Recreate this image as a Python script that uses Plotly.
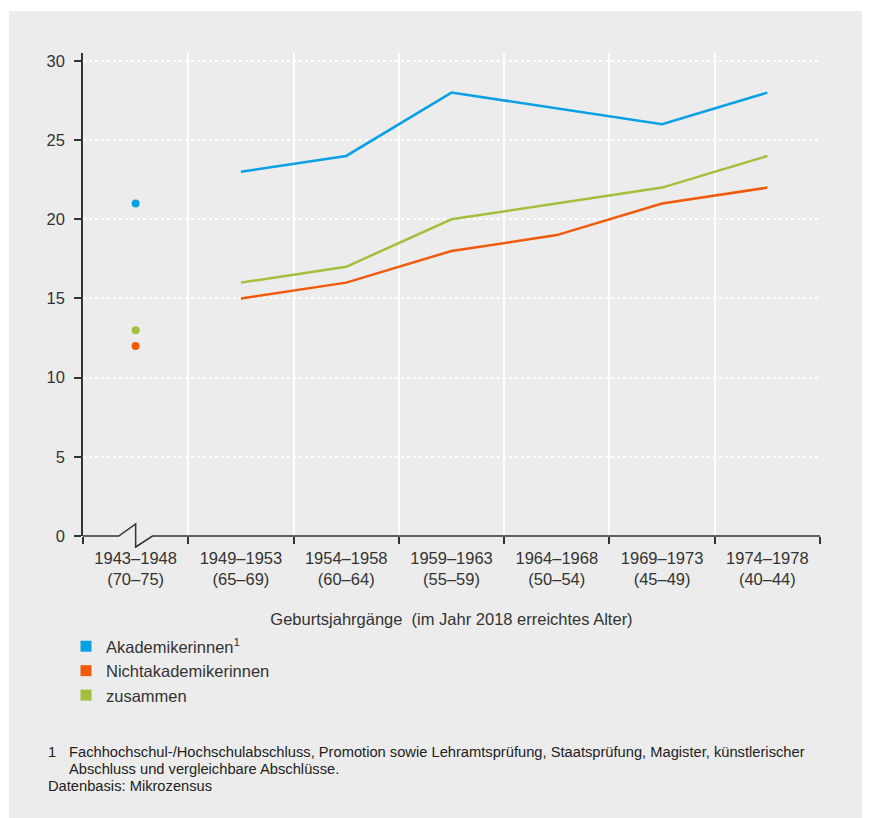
import plotly.graph_objects as go

# Geburtsjahrgänge (Alter 2018)
cohorts = ["1943–1948<br>(70–75)", "1949–1953<br>(65–69)", "1954–1958<br>(60–64)",
           "1959–1963<br>(55–59)", "1964–1968<br>(50–54)", "1969–1973<br>(45–49)",
           "1974–1978<br>(40–44)"]
akademikerinnen = [21, 23, 24, 28, 27, 26, 28]
nichtakademikerinnen = [12, 15, 16, 18, 19, 21, 22]
zusammen = [13, 16, 17, 20, 21, 22, 24]

series = [
    ("Akademikerinnen<sup>1</sup>", akademikerinnen, "#0aa0e6"),
    ("Nichtakademikerinnen", nichtakademikerinnen, "#f05a0a"),
    ("zusammen", zusammen, "#a2c03c"),
]

# page body adds an 8px margin, so the figure is a bit smaller than the window
OFF = 8
W, H = 862, 810
ML, MT = 83 - OFF, 53 - OFF
MR = W - (820 - OFF)
MB = H - (536 - OFF)
pw, ph = W - ML - MR, H - MT - MB

def px(x):
    # screen x of the reference -> paper x
    return (x - OFF - ML) / pw

def py(y):
    # screen y of the reference -> paper y
    return (H - MB - (y - OFF)) / ph

fig = go.Figure()
for name, vals, col in series:
    # first cohort stands apart as a single dot
    fig.add_trace(go.Scatter(x=cohorts[:1], y=vals[:1], mode="markers",
                             marker=dict(color=col, size=8), showlegend=False,
                             hoverinfo="skip"))
    fig.add_trace(go.Scatter(x=cohorts[1:], y=vals[1:], mode="lines",
                             line=dict(color=col, width=2.5), showlegend=False))
    fig.add_trace(go.Scatter(x=[None], y=[None], mode="markers", name=name,
                             marker=dict(color=col, size=11, symbol="square")))

axis_col = "#333333"
gray = "#ececec"
font_fam = "Liberation Sans, Arial, sans-serif"
fig.update_layout(
    width=W, height=H,
    margin=dict(l=ML, r=MR, t=MT, b=MB),
    paper_bgcolor="white", plot_bgcolor=gray,
    font=dict(family=font_fam, size=16.5, color=axis_col),
    showlegend=True,
    legend=dict(x=px(66), y=py(629), xanchor="left", yanchor="top",
                bgcolor="rgba(0,0,0,0)", font=dict(size=16.5, color=axis_col),
                itemwidth=30, tracegroupgap=0),
    xaxis=dict(
        type="category", range=[-0.5, 6.5], tickson="boundaries",
        showgrid=True, gridcolor="white", gridwidth=1.5,
        ticks="outside", ticklen=7, tickcolor=axis_col, tickwidth=1.5,
        ticklabelstandoff=10,
        showline=False, zeroline=False,
        tickfont=dict(size=16.5, color=axis_col),
        title=dict(text="Geburtsjahrgänge  (im Jahr 2018 erreichtes Alter)",
                   font=dict(size=16.5, color=axis_col), standoff=26),
    ),
    yaxis=dict(
        range=[0, 30.5], tickvals=[0, 5, 10, 15, 20, 25, 30],
        showgrid=True, gridcolor="white", griddash="dot", gridwidth=1.5,
        ticks="outside", ticklen=7, tickcolor=axis_col, tickwidth=1.5,
        ticklabelstandoff=6,
        showline=True, linecolor=axis_col, linewidth=1.5, zeroline=False,
        tickfont=dict(size=16.5, color=axis_col),
    ),
)

# grey panel behind everything
fig.add_shape(type="rect", xref="paper", yref="paper", layer="below",
              x0=px(9), x1=px(W + 20), y0=py(H + 20), y1=py(11),
              fillcolor=gray, line=dict(width=0))

# x axis line with break mark in the first cohort
c0 = 0.5 / 7
d = 0.16 / 7
fig.add_shape(type="path", xref="paper", yref="paper", layer="above",
              path=(f"M 0,0 L {c0 - d},0 L {c0},{12 / ph} L {c0},{-11 / ph} "
                    f"L {c0 + d},0 L 1,0"),
              line=dict(color=axis_col, width=1.5))

foot = dict(xref="paper", yref="paper", xanchor="left", yanchor="middle",
            showarrow=False, font=dict(family=font_fam, size=14.7, color="#222222"))
fig.add_annotation(x=px(46), y=py(752), text="1", **foot)
fig.add_annotation(x=px(67), y=py(752),
                   text="Fachhochschul-/Hochschulabschluss, Promotion sowie Lehramtsprüfung, "
                        "Staatsprüfung, Magister, künstlerischer", **foot)
fig.add_annotation(x=px(67), y=py(769),
                   text="Abschluss und vergleichbare Abschlüsse.", **foot)
fig.add_annotation(x=px(46), y=py(786), text="Datenbasis: Mikrozensus", **foot)

fig.write_html("out.html")
